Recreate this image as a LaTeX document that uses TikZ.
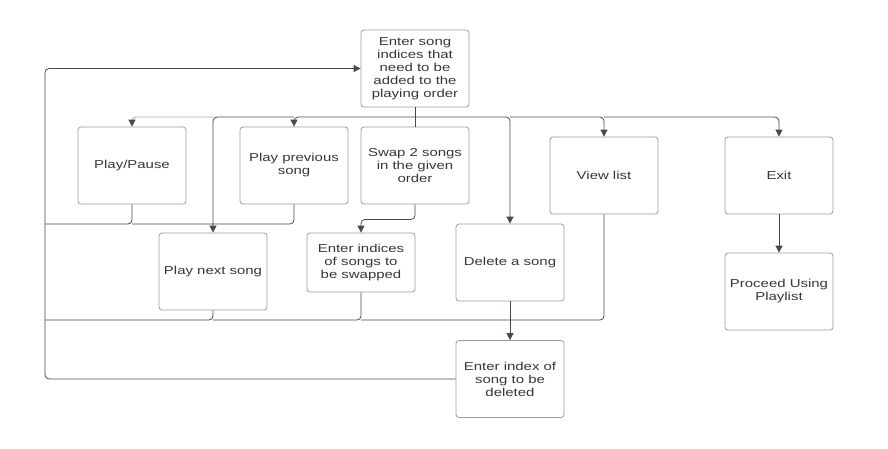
\documentclass[tikz,border=0pt]{standalone}
\usepackage{fontspec}
\setmainfont[FakeStretch=1.3]{Liberation Sans}
\usetikzlibrary{arrows.meta}
\definecolor{boxc}{HTML}{9A9DA2}
\definecolor{linec}{HTML}{454A52}
\definecolor{lightc}{HTML}{A8ABAF}
\definecolor{textc}{HTML}{33373D}
\begin{document}
\begin{tikzpicture}[x=1pt,y=-1pt,
  stepbox/.style={draw=boxc, line width=0.8pt, rounded corners=3pt, minimum width=108pt, minimum height=77pt, inner sep=0pt, align=center, text=textc, font=\fontsize{11.5}{13}\selectfont},
  conn/.style={draw=linec, line width=0.8pt, rounded corners=4pt},
  arr/.style={conn, -{Triangle[width=7pt,length=7pt,color=linec]}},
]
\useasboundingbox[fill=white] (0,0) rectangle (888,448);

\node[stepbox] (top)  at (415,68.5) {Enter song\\indices that\\need to be\\added to the\\playing order};
\node[stepbox] (pp)   at (132,165.5) {Play/Pause};
\node[stepbox] (prev) at (294,165.5) {Play previous\\song};
\node[stepbox] (swap) at (415,165.5) {Swap 2 songs\\in the given\\order};
\node[stepbox] (view) at (604,175.5) {View list};
\node[stepbox] (exit) at (779,175.5) {Exit};
\node[stepbox] (proc) at (779,291.5) {Proceed Using\\Playlist};
\node[stepbox] (next) at (213,271.5) {Play next song};
\node[stepbox, minimum height=59pt] (ind) at (361,262.5) {Enter indices\\of songs to\\be swapped};
\node[stepbox] (del)  at (510,262.5) {Delete a song};
\node[stepbox] (idx)  at (510,379) {Enter index of\\song to be\\deleted};

% junction points on the shared lines
\coordinate (bj) at (415,117);
\coordinate (lx) at (45,68.5);
\coordinate (ja) at (45,224);
\coordinate (jb) at (45,320);

% distribution from the top box
\draw[conn] (top.south) -- (swap.north);
\draw[arr] (bj) -| (del.north);
\draw[arr] (bj -| del.north) -| (view.north);
\draw[arr] (bj -| view.north) -| (exit.north);
\draw[arr] (bj) -| (prev.north);
\draw[arr] (bj -| prev.north) -| (next.north);
\draw[arr, draw=lightc] (bj -| next.north) -| (pp.north);

% second level
\draw[arr] (swap.south) -- ++(0,15) -| (ind.north);
\draw[arr] (del.south) -- (idx.north);
\draw[arr] (exit.south) -- (proc.north);

% loops back to the top box
\draw[arr] (idx.west) -| (lx) -- (top.west);
\draw[conn] (prev.south) |- (pp.south |- ja);
\draw[conn] (pp.south) |- (ja);
\draw[conn] (view.south) |- (ind.south |- jb);
\draw[conn] (ind.south) |- (next.south |- jb);
\draw[conn] (next.south) |- (jb);
\end{tikzpicture}
\end{document}
